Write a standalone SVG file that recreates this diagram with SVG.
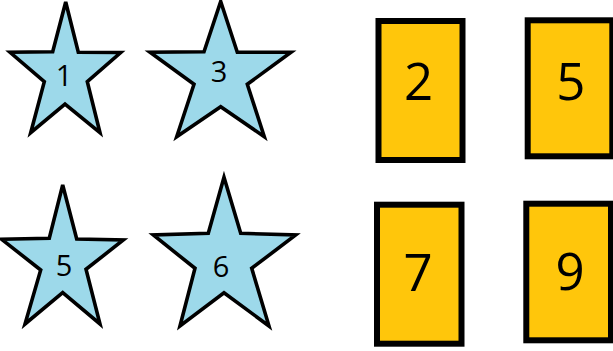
<svg xmlns="http://www.w3.org/2000/svg" width="613" height="351" viewBox="0 0 613 351">
<style>
.star{fill:#9DD9EA;stroke:#000;stroke-width:3.6;stroke-linejoin:miter}
.card{fill:#FFC60B;stroke:#000;stroke-width:6}
.sl{font-family:"Open Sans","Liberation Sans",sans-serif;font-size:29px;fill:#000;text-anchor:middle}
.cl{font-family:"Open Sans","Liberation Sans",sans-serif;font-size:51px;fill:#000;text-anchor:middle}
</style>
<rect width="613" height="351" fill="#fff"/>
<g id="star1">
<polygon class="star" points="65.7,2 78.3,52.3 120.7,52.5 87.3,81.7 100,132.7 65,104 30.7,132.7 44.3,81.7 10,52.3 52.7,51.7"/>
<text class="sl" x="64" y="86">1</text>
</g>
<g id="star3">
<polygon class="star" points="220.7,1.5 237.3,52.3 291,52.3 247.3,84.3 264.3,136.7 220.7,106.7 176.7,136.7 194,84.3 150,52.3 204,51.7"/>
<text class="sl" x="219" y="81.7">3</text>
</g>
<g id="star5">
<polygon class="star" points="62.7,185 76.7,239 123.3,240 86,269.3 100,324 62.7,292.7 25,324 40.7,270 1.7,239.3 49.3,238.3"/>
<text class="sl" x="64" y="275.7">5</text>
</g>
<g id="star6">
<polygon class="star" points="224,177.3 240.7,233.3 295.7,235 251.7,268.3 269,326 224,292.7 180,326 195,268.3 153.3,235 208.3,233.3"/>
<text class="sl" x="221" y="276.7">6</text>
</g>
<g id="card2">
<rect class="card" x="378.5" y="21" width="84" height="139"/>
<text class="cl" x="418.5" y="100">2</text>
</g>
<g id="card5">
<rect class="card" x="527.7" y="20.3" width="84.6" height="136"/>
<text class="cl" x="570.8" y="100">5</text>
</g>
<g id="card7">
<rect class="card" x="377" y="204.7" width="84.5" height="139"/>
<text class="cl" x="418" y="291">7</text>
</g>
<g id="card9">
<rect class="card" x="526.3" y="203.7" width="84.7" height="136.6"/>
<text class="cl" x="570" y="290">9</text>
</g>
<g id="connectors"></g>
</svg>
